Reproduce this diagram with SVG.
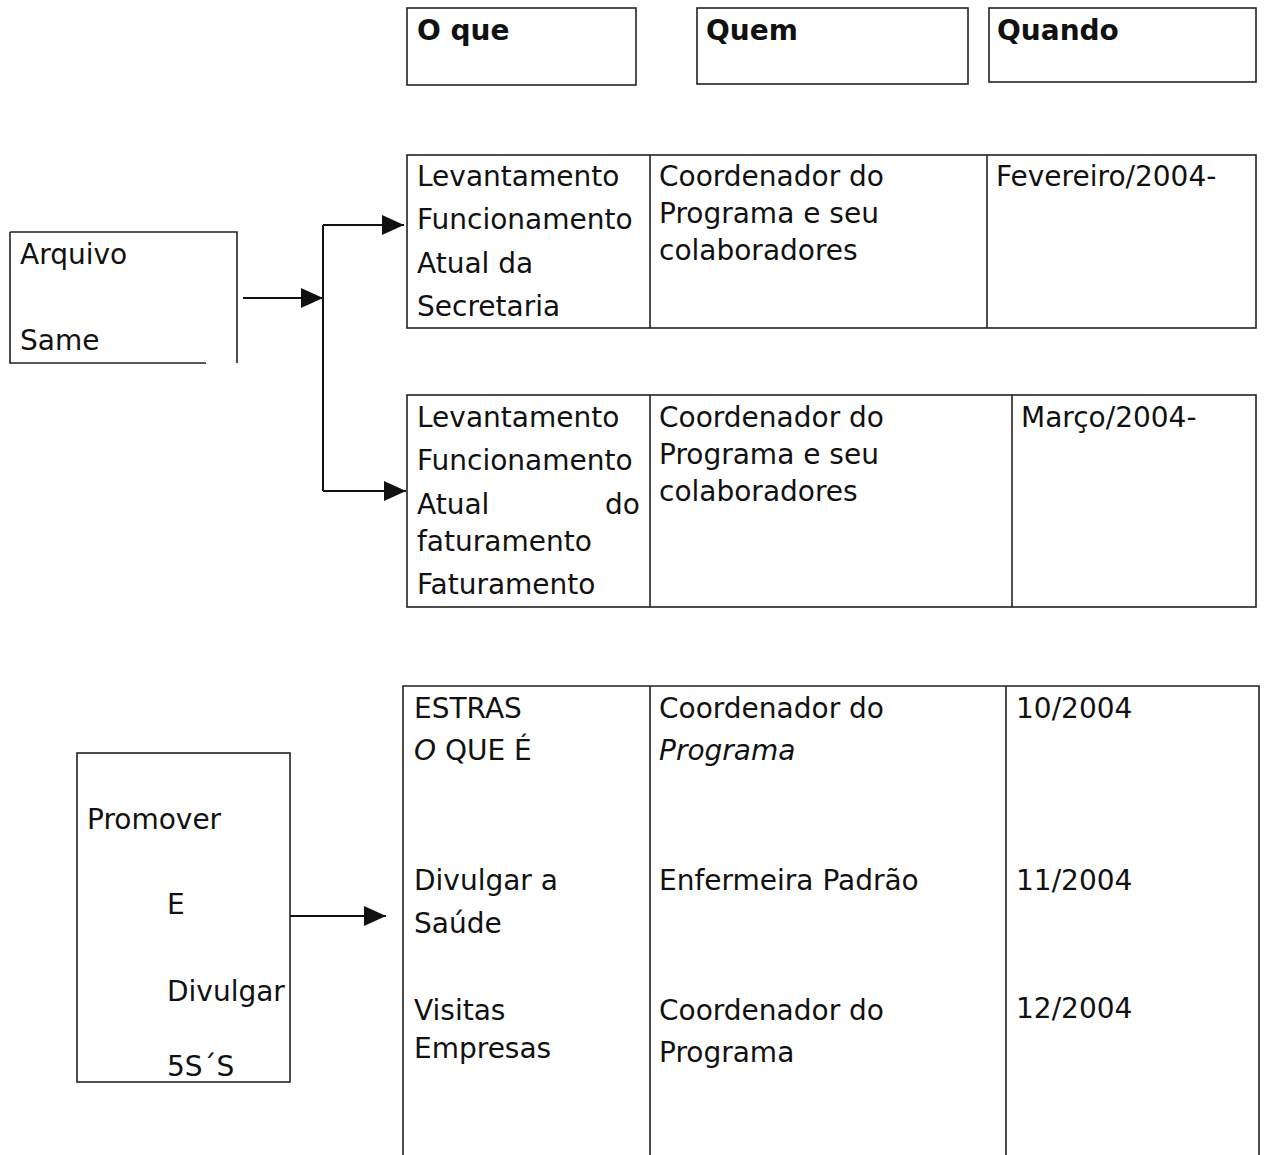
<svg xmlns="http://www.w3.org/2000/svg" width="1266" height="1155" viewBox="0 0 1266 1155">
<style>
.box{fill:none;stroke:#222;stroke-width:1.6}
.ln{fill:none;stroke:#222;stroke-width:1.6}
.t{font-family:"DejaVu Sans","Liberation Sans",sans-serif;font-size:28px;fill:#111}
.h{font-family:"DejaVu Sans","Liberation Sans",sans-serif;font-size:28px;font-weight:bold;fill:#111}
.i{font-style:italic}
.c{fill:none;stroke:#111;stroke-width:2}
</style>
<defs>
<marker id="ah" markerUnits="userSpaceOnUse" markerWidth="22" markerHeight="20" refX="22" refY="10" orient="auto">
<path d="M0,0 L22,10 L0,20 Z" fill="#111"/>
</marker>
</defs>
<rect width="1266" height="1155" fill="#fff"/>

<g id="hdr-oque">
<rect class="box" x="407" y="8" width="229" height="77"/>
<text class="h" x="417" y="40">O que</text>
</g>
<g id="hdr-quem">
<rect class="box" x="697" y="8" width="271" height="76"/>
<text class="h" x="706" y="40">Quem</text>
</g>
<g id="hdr-quando">
<rect class="box" x="989" y="8" width="267" height="74"/>
<text class="h" x="997" y="40">Quando</text>
</g>

<g id="arquivo">
<path class="ln" d="M10,232 H237 V363 M10,232 V363 H206"/>
<text class="t" x="20" y="264">Arquivo</text>
<text class="t" x="20" y="350">Same</text>
</g>

<g id="tabela1">
<rect class="box" x="407" y="155" width="849" height="173"/>
<line class="ln" x1="650" y1="155" x2="650" y2="328"/>
<line class="ln" x1="987" y1="155" x2="987" y2="328"/>
<text class="t" x="417" y="186">Levantamento</text>
<text class="t" x="417" y="229">Funcionamento</text>
<text class="t" x="417" y="273">Atual da</text>
<text class="t" x="417" y="316">Secretaria</text>
<text class="t" x="659" y="186">Coordenador do</text>
<text class="t" x="659" y="223">Programa e seu</text>
<text class="t" x="659" y="260">colaboradores</text>
<text class="t" x="996" y="186">Fevereiro/2004-</text>
</g>

<g id="tabela2">
<rect class="box" x="407" y="395" width="849" height="212"/>
<line class="ln" x1="650" y1="395" x2="650" y2="607"/>
<line class="ln" x1="1012" y1="395" x2="1012" y2="607"/>
<text class="t" x="417" y="427">Levantamento</text>
<text class="t" x="417" y="470">Funcionamento</text>
<text class="t" x="417" y="514">Atual</text>
<text class="t" x="640" y="514" text-anchor="end">do</text>
<text class="t" x="417" y="551">faturamento</text>
<text class="t" x="417" y="594">Faturamento</text>
<text class="t" x="659" y="427">Coordenador do</text>
<text class="t" x="659" y="464">Programa e seu</text>
<text class="t" x="659" y="501">colaboradores</text>
<text class="t" x="1021" y="427">Março/2004-</text>
</g>

<g id="promover">
<rect class="box" x="77" y="753" width="213" height="329"/>
<text class="t" x="87" y="829">Promover</text>
<text class="t" x="167" y="914">E</text>
<text class="t" x="167" y="1001">Divulgar</text>
<text class="t" x="167" y="1076">5S´S</text>
</g>

<g id="tabela3">
<path class="ln" d="M403,1155 V686 H1259 V1155 M650,686 V1155 M1006,686 V1155"/>
<text class="t" x="414" y="718">ESTRAS</text>
<text class="t" x="414" y="760"><tspan class="i">O</tspan> QUE É</text>
<text class="t" x="414" y="890">Divulgar a</text>
<text class="t" x="414" y="933">Saúde</text>
<text class="t" x="414" y="1020">Visitas</text>
<text class="t" x="414" y="1058">Empresas</text>
<text class="t" x="659" y="718">Coordenador do</text>
<text class="t i" x="659" y="760">Programa</text>
<text class="t" x="659" y="890">Enfermeira Padrão</text>
<text class="t" x="659" y="1020">Coordenador do</text>
<text class="t" x="659" y="1062">Programa</text>
<text class="t" x="1016" y="718">10/2004</text>
<text class="t" x="1016" y="890">11/2004</text>
<text class="t" x="1016" y="1018">12/2004</text>
</g>

<g id="connectors">
<line class="c" x1="243" y1="298" x2="323" y2="298" marker-end="url(#ah)"/>
<path class="c" d="M323,225 V491"/>
<line class="c" x1="323" y1="225" x2="404" y2="225" marker-end="url(#ah)"/>
<line class="c" x1="323" y1="491" x2="406" y2="491" marker-end="url(#ah)"/>
<line class="c" x1="290" y1="916" x2="386" y2="916" marker-end="url(#ah)"/>
</g>
</svg>
